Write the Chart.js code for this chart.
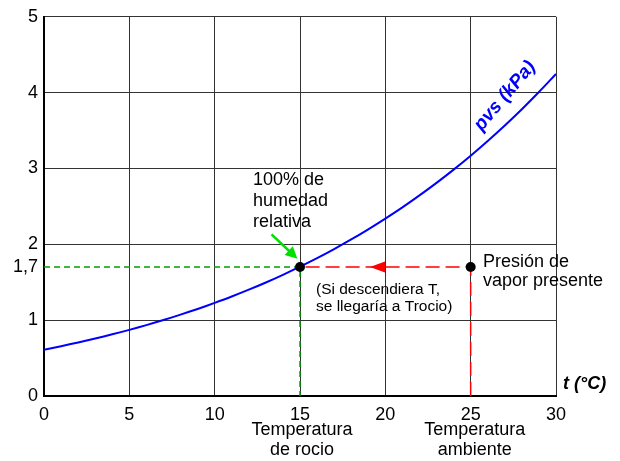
<!DOCTYPE html>
<html>
  <head>
    <meta charset="UTF-8">
    <title>Presión de vapor de saturación</title>
    <script src="https://cdn.jsdelivr.net/npm/chart.js@4.4.0/dist/chart.umd.min.js"></script>
    <style>
      body { margin: 0; background: #fff; }
      #wrap { width: 620px; height: 461px; }
    </style>
  </head>
  <body>
    <div id="wrap"><canvas id="pvsChart" width="620" height="461"></canvas></div>

    <script>
      // temperatura (°C) y presión de vapor de saturación (kPa)
      const temps = [0, 1, 2, 3, 4, 5, 6, 7, 8, 9, 10, 11, 12, 13, 14, 15,
                     16, 17, 18, 19, 20, 21, 22, 23, 24, 25, 26, 27, 28, 29, 30];
      const pvs = [0.611, 0.657, 0.706, 0.758, 0.813, 0.872, 0.935, 1.002, 1.073, 1.148, 1.228,
                   1.312, 1.402, 1.497, 1.598, 1.705, 1.818, 1.938, 2.064, 2.198, 2.339,
                   2.487, 2.645, 2.810, 2.985, 3.169, 3.363, 3.567, 3.782, 4.008, 4.246];

      const yTicks = [0, 1, 1.7, 2, 3, 4, 5];
      const tRocio = 15;
      const tAmbiente = 25;
      const pPresente = 1.7;

      const FONT = "'Liberation Sans', Arial, sans-serif";

      const ctx = document.getElementById('pvsChart').getContext('2d');

      const annotations = {
        id: 'annotations',
        afterDatasetsDraw(chart) {
          const c = chart.ctx;
          const xs = chart.scales.x;
          const ys = chart.scales.y;
          const area = chart.chartArea;
          c.save();

          // red arrowhead on the dashed line (pointing left)
          let tipX = xs.getPixelForValue(19.1);
          let py = ys.getPixelForValue(pPresente);
          c.fillStyle = '#ff0000';
          c.beginPath();
          c.moveTo(tipX, py);
          c.lineTo(tipX + 15, py - 5.5);
          c.lineTo(tipX + 15, py + 5.5);
          c.closePath();
          c.fill();

          // green arrow to the dew point
          let x0 = xs.getPixelForValue(13.33), y0 = ys.getPixelForValue(2.13);
          let x1 = xs.getPixelForValue(14.85), y1 = ys.getPixelForValue(1.81);
          let ang = Math.atan2(y1 - y0, x1 - x0);
          c.strokeStyle = '#00e000';
          c.fillStyle = '#00e000';
          c.lineWidth = 2.5;
          c.beginPath();
          c.moveTo(x0, y0);
          c.lineTo(x1 - 8 * Math.cos(ang), y1 - 8 * Math.sin(ang));
          c.stroke();
          c.beginPath();
          c.moveTo(x1, y1);
          c.lineTo(x1 - 12 * Math.cos(ang) + 6 * Math.sin(ang), y1 - 12 * Math.sin(ang) - 6 * Math.cos(ang));
          c.lineTo(x1 - 12 * Math.cos(ang) - 6 * Math.sin(ang), y1 - 12 * Math.sin(ang) + 6 * Math.cos(ang));
          c.closePath();
          c.fill();

          // texts
          c.fillStyle = '#000';
          c.textBaseline = 'alphabetic';
          c.textAlign = 'left';
          c.font = '18px ' + FONT;
          c.fillText('100% de', 253, 185);
          c.fillText('humedad', 253, 206);
          c.fillText('relativa', 253, 227);
          c.fillText('Presión de', 483, 267);
          c.fillText('vapor presente', 483, 286);

          c.font = '15.5px ' + FONT;
          c.fillText('(Si descendiera T,', 316, 294);
          c.fillText('se llegaría a Trocio)', 316, 311);

          c.textAlign = 'center';
          c.font = '18px ' + FONT;
          let xr = xs.getPixelForValue(tRocio) + 2;
          let xa = xs.getPixelForValue(tAmbiente) + 4;
          c.fillText('Temperatura', xr, 435);
          c.fillText('de rocio', xr, 455);
          c.fillText('Temperatura', xa, 435);
          c.fillText('ambiente', xa, 455);

          c.textAlign = 'left';
          c.font = 'italic bold 18px ' + FONT;
          c.fillText('t (°C)', area.right + 7, 389);

          // series label along the curve
          c.translate(505, 96);
          c.rotate(-50 * Math.PI / 180);
          c.textAlign = 'center';
          c.textBaseline = 'middle';
          c.fillStyle = '#0000ff';
          c.font = 'italic bold 19px ' + FONT;
          c.fillText('pvs (kPa)', 0, 0);
          c.restore();
        }
      };

      const chart = new Chart(ctx, {
        type: 'scatter',
        data: {
          datasets: [
            {
              label: 'puntos',
              data: [{ x: tRocio, y: pPresente }, { x: tAmbiente, y: pPresente }],
              pointRadius: 5,
              pointBackgroundColor: '#000',
              pointBorderWidth: 0,
              showLine: false,
              order: 0
            },
            {
              label: 'pvs (kPa)',
              data: temps.map((t, i) => ({ x: t, y: pvs[i] })),
              showLine: true,
              borderColor: '#0000ff',
              borderWidth: 2,
              pointRadius: 0,
              tension: 0.3,
              order: 1
            },
            {
              label: 'rocio',
              data: [{ x: 0, y: pPresente }, { x: tRocio, y: pPresente }, { x: tRocio, y: 0 }],
              showLine: true,
              borderColor: '#00a000',
              borderWidth: 1.5,
              borderDash: [6, 4],
              pointRadius: 0,
              order: 2
            },
            {
              label: 'ambiente',
              data: [{ x: tAmbiente, y: 0 }, { x: tAmbiente, y: pPresente }, { x: tRocio, y: pPresente }],
              showLine: true,
              borderColor: '#ff0000',
              borderWidth: 1.5,
              borderDash: [14, 6],
              pointRadius: 0,
              order: 2
            }
          ]
        },
        options: {
          responsive: false,
          animation: false,
          layout: { padding: { top: 12, right: 64, left: 0, bottom: 0 } },
          plugins: {
            legend: { display: false },
            tooltip: { enabled: false }
          },
          scales: {
            x: {
              type: 'linear',
              min: 0,
              max: 30,
              afterFit(scale) { scale.height = 65; },
              ticks: {
                stepSize: 5,
                autoSkip: false,
                maxRotation: 0,
                padding: 8,
                color: '#000',
                font: { family: FONT, size: 18 }
              },
              grid: { color: '#333', lineWidth: 1, drawTicks: false },
              border: { color: '#000', width: 2 }
            },
            y: {
              type: 'linear',
              min: 0,
              max: 5,
              afterFit(scale) { scale.width = 44; },
              afterBuildTicks(scale) { scale.ticks = yTicks.map(v => ({ value: v })); },
              ticks: {
                padding: 6,
                color: '#000',
                font: { family: FONT, size: 18 },
                callback: v => String(v).replace('.', ',')
              },
              grid: {
                color: c => (c.tick && c.tick.value === pPresente) ? 'rgba(0,0,0,0)' : '#333',
                lineWidth: 1,
                drawTicks: false
              },
              border: { color: '#000', width: 2 }
            }
          }
        },
        plugins: [annotations]
      });
    </script>
  </body>
</html>
